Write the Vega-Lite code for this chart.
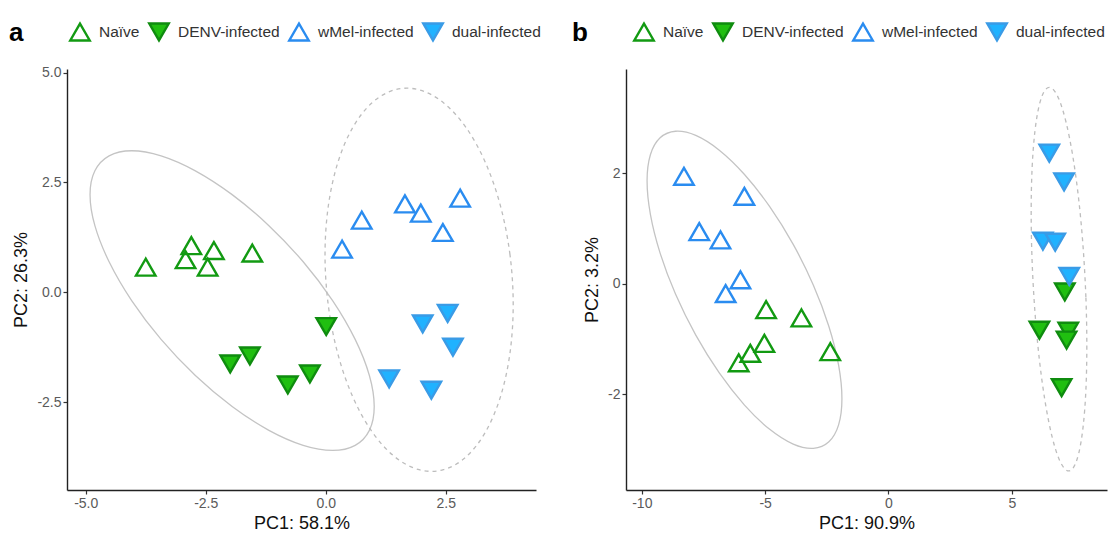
{
  "$schema": "https://vega.github.io/schema/vega-lite/v6.json",
  "padding": {"left": 9, "top": 21, "right": 2, "bottom": 2},
  "background": "white",
  "bounds": "flush",
  "spacing": 90,
  "config": {
    "font": "Liberation Sans",
    "view": {"stroke": null},
    "axis": {
      "grid": false,
      "domainColor": "#222222",
      "domainWidth": 1.4,
      "tickColor": "#333333",
      "tickSize": 4,
      "tickWidth": 1.2,
      "labelColor": "#5a5a5a",
      "labelFontSize": 14,
      "labelFont": "Liberation Sans",
      "titleFont": "Liberation Sans",
      "titleFontSize": 18,
      "titleFontWeight": "normal",
      "titleColor": "#111111",
      "labelExpr": "replace(datum.label, '\u2212', '-')"
    },
    "legend": {
      "labelFont": "Liberation Sans",
      "labelFontSize": 15.5,
      "labelColor": "#333333",
      "titleFont": "Liberation Sans",
      "titleFontSize": 26,
      "titleFontWeight": "bold",
      "titleColor": "#000000",
      "titleOrient": "left",
      "titlePadding": 45,
      "symbolStrokeWidth": 2.4,
      "symbolSize": 380,
      "labelOffset": 8,
      "columnPadding": 4,
      "gridAlign": "none",
      "direction": "horizontal"
    }
  },
  "datasets": {
    "ptsA": [
      {"group": "Naïve", "pc1": -3.75, "pc2": 0.57},
      {"group": "Naïve", "pc1": -2.80, "pc2": 1.06},
      {"group": "Naïve", "pc1": -2.92, "pc2": 0.74},
      {"group": "Naïve", "pc1": -2.33, "pc2": 0.95},
      {"group": "Naïve", "pc1": -2.46, "pc2": 0.57},
      {"group": "Naïve", "pc1": -1.53, "pc2": 0.89},
      {"group": "DENV-infected", "pc1": 0.01, "pc2": -0.78},
      {"group": "DENV-infected", "pc1": -1.58, "pc2": -1.45},
      {"group": "DENV-infected", "pc1": -1.99, "pc2": -1.63},
      {"group": "DENV-infected", "pc1": -0.79, "pc2": -2.11},
      {"group": "DENV-infected", "pc1": -0.33, "pc2": -1.86},
      {"group": "wMel-infected", "pc1": 0.34, "pc2": 0.98},
      {"group": "wMel-infected", "pc1": 0.75, "pc2": 1.64},
      {"group": "wMel-infected", "pc1": 1.65, "pc2": 2.01},
      {"group": "wMel-infected", "pc1": 1.98, "pc2": 1.80},
      {"group": "wMel-infected", "pc1": 2.44, "pc2": 1.36},
      {"group": "wMel-infected", "pc1": 2.80, "pc2": 2.14},
      {"group": "dual-infected", "pc1": 2.54, "pc2": -0.48},
      {"group": "dual-infected", "pc1": 2.02, "pc2": -0.72},
      {"group": "dual-infected", "pc1": 2.65, "pc2": -1.25},
      {"group": "dual-infected", "pc1": 1.32, "pc2": -1.97},
      {"group": "dual-infected", "pc1": 2.20, "pc2": -2.23}
    ],
    "ptsB": [
      {"group": "Naïve", "pc1": -4.96, "pc2": -0.47},
      {"group": "Naïve", "pc1": -3.53, "pc2": -0.62},
      {"group": "Naïve", "pc1": -5.03, "pc2": -1.08},
      {"group": "Naïve", "pc1": -5.60, "pc2": -1.26},
      {"group": "Naïve", "pc1": -6.07, "pc2": -1.43},
      {"group": "Naïve", "pc1": -2.36, "pc2": -1.23},
      {"group": "DENV-infected", "pc1": 7.15, "pc2": -0.15},
      {"group": "DENV-infected", "pc1": 6.12, "pc2": -0.84},
      {"group": "DENV-infected", "pc1": 7.29, "pc2": -0.86},
      {"group": "DENV-infected", "pc1": 7.22, "pc2": -1.02},
      {"group": "DENV-infected", "pc1": 7.02, "pc2": -1.88},
      {"group": "wMel-infected", "pc1": -8.29, "pc2": 1.94},
      {"group": "wMel-infected", "pc1": -5.84, "pc2": 1.58},
      {"group": "wMel-infected", "pc1": -7.67, "pc2": 0.94},
      {"group": "wMel-infected", "pc1": -6.81, "pc2": 0.79},
      {"group": "wMel-infected", "pc1": -6.00, "pc2": 0.07},
      {"group": "wMel-infected", "pc1": -6.60, "pc2": -0.18},
      {"group": "dual-infected", "pc1": 6.52, "pc2": 2.36},
      {"group": "dual-infected", "pc1": 7.12, "pc2": 1.84},
      {"group": "dual-infected", "pc1": 6.26, "pc2": 0.77},
      {"group": "dual-infected", "pc1": 6.76, "pc2": 0.75},
      {"group": "dual-infected", "pc1": 7.33, "pc2": 0.13}
    ],
    "ellA": [
      {"e": "s", "t": 0, "pc1": 1.01, "pc2": -2.601},
      {"e": "s", "t": 15, "pc1": 0.909, "pc2": -1.895},
      {"e": "s", "t": 30, "pc1": 0.613, "pc2": -1.073},
      {"e": "s", "t": 45, "pc1": 0.143, "pc2": -0.19},
      {"e": "s", "t": 60, "pc1": -0.47, "pc2": 0.693},
      {"e": "s", "t": 75, "pc1": -1.184, "pc2": 1.515},
      {"e": "s", "t": 90, "pc1": -1.95, "pc2": 2.221},
      {"e": "s", "t": 105, "pc1": -2.716, "pc2": 2.763},
      {"e": "s", "t": 120, "pc1": -3.43, "pc2": 3.104},
      {"e": "s", "t": 135, "pc1": -4.043, "pc2": 3.22},
      {"e": "s", "t": 150, "pc1": -4.513, "pc2": 3.104},
      {"e": "s", "t": 165, "pc1": -4.809, "pc2": 2.763},
      {"e": "s", "t": 180, "pc1": -4.91, "pc2": 2.221},
      {"e": "s", "t": 195, "pc1": -4.809, "pc2": 1.515},
      {"e": "s", "t": 210, "pc1": -4.513, "pc2": 0.693},
      {"e": "s", "t": 225, "pc1": -4.043, "pc2": -0.19},
      {"e": "s", "t": 240, "pc1": -3.43, "pc2": -1.073},
      {"e": "s", "t": 255, "pc1": -2.716, "pc2": -1.895},
      {"e": "s", "t": 270, "pc1": -1.95, "pc2": -2.601},
      {"e": "s", "t": 285, "pc1": -1.184, "pc2": -3.143},
      {"e": "s", "t": 300, "pc1": -0.47, "pc2": -3.484},
      {"e": "s", "t": 315, "pc1": 0.143, "pc2": -3.6},
      {"e": "s", "t": 330, "pc1": 0.613, "pc2": -3.484},
      {"e": "s", "t": 345, "pc1": 0.909, "pc2": -3.143},
      {"e": "d", "t": 0, "pc1": 3.905, "pc2": -0.283},
      {"e": "d", "t": 15, "pc1": 3.838, "pc2": 0.855},
      {"e": "d", "t": 30, "pc1": 3.642, "pc2": 1.955},
      {"e": "d", "t": 45, "pc1": 3.331, "pc2": 2.94},
      {"e": "d", "t": 60, "pc1": 2.925, "pc2": 3.744},
      {"e": "d", "t": 75, "pc1": 2.452, "pc2": 4.313},
      {"e": "d", "t": 90, "pc1": 1.945, "pc2": 4.607},
      {"e": "d", "t": 105, "pc1": 1.438, "pc2": 4.607},
      {"e": "d", "t": 120, "pc1": 0.965, "pc2": 4.312},
      {"e": "d", "t": 135, "pc1": 0.559, "pc2": 3.742},
      {"e": "d", "t": 150, "pc1": 0.248, "pc2": 2.937},
      {"e": "d", "t": 165, "pc1": 0.052, "pc2": 1.951},
      {"e": "d", "t": 180, "pc1": -0.015, "pc2": 0.851},
      {"e": "d", "t": 195, "pc1": 0.052, "pc2": -0.287},
      {"e": "d", "t": 210, "pc1": 0.248, "pc2": -1.387},
      {"e": "d", "t": 225, "pc1": 0.559, "pc2": -2.372},
      {"e": "d", "t": 240, "pc1": 0.965, "pc2": -3.176},
      {"e": "d", "t": 255, "pc1": 1.438, "pc2": -3.745},
      {"e": "d", "t": 270, "pc1": 1.945, "pc2": -4.039},
      {"e": "d", "t": 285, "pc1": 2.452, "pc2": -4.039},
      {"e": "d", "t": 300, "pc1": 2.925, "pc2": -3.744},
      {"e": "d", "t": 315, "pc1": 3.331, "pc2": -3.174},
      {"e": "d", "t": 330, "pc1": 3.642, "pc2": -2.369},
      {"e": "d", "t": 345, "pc1": 3.838, "pc2": -1.383}
    ],
    "ellB": [
      {"e": "s", "t": 0, "pc1": -1.886, "pc2": -2.08},
      {"e": "s", "t": 15, "pc1": -2.021, "pc2": -1.474},
      {"e": "s", "t": 30, "pc1": -2.415, "pc2": -0.774},
      {"e": "s", "t": 45, "pc1": -3.043, "pc2": -0.029},
      {"e": "s", "t": 60, "pc1": -3.861, "pc2": 0.709},
      {"e": "s", "t": 75, "pc1": -4.814, "pc2": 1.392},
      {"e": "s", "t": 90, "pc1": -5.836, "pc2": 1.973},
      {"e": "s", "t": 105, "pc1": -6.858, "pc2": 2.412},
      {"e": "s", "t": 120, "pc1": -7.811, "pc2": 2.679},
      {"e": "s", "t": 135, "pc1": -8.629, "pc2": 2.755},
      {"e": "s", "t": 150, "pc1": -9.257, "pc2": 2.636},
      {"e": "s", "t": 165, "pc1": -9.651, "pc2": 2.33},
      {"e": "s", "t": 180, "pc1": -9.786, "pc2": 1.858},
      {"e": "s", "t": 195, "pc1": -9.651, "pc2": 1.252},
      {"e": "s", "t": 210, "pc1": -9.257, "pc2": 0.552},
      {"e": "s", "t": 225, "pc1": -8.629, "pc2": -0.193},
      {"e": "s", "t": 240, "pc1": -7.811, "pc2": -0.931},
      {"e": "s", "t": 255, "pc1": -6.858, "pc2": -1.614},
      {"e": "s", "t": 270, "pc1": -5.836, "pc2": -2.195},
      {"e": "s", "t": 285, "pc1": -4.814, "pc2": -2.634},
      {"e": "s", "t": 300, "pc1": -3.861, "pc2": -2.901},
      {"e": "s", "t": 315, "pc1": -3.043, "pc2": -2.977},
      {"e": "s", "t": 330, "pc1": -2.415, "pc2": -2.858},
      {"e": "s", "t": 345, "pc1": -2.021, "pc2": -2.552},
      {"e": "d", "t": 0, "pc1": 8.042, "pc2": -1.126},
      {"e": "d", "t": 15, "pc1": 8.004, "pc2": -0.244},
      {"e": "d", "t": 30, "pc1": 7.891, "pc2": 0.661},
      {"e": "d", "t": 45, "pc1": 7.712, "pc2": 1.526},
      {"e": "d", "t": 60, "pc1": 7.478, "pc2": 2.292},
      {"e": "d", "t": 75, "pc1": 7.206, "pc2": 2.908},
      {"e": "d", "t": 90, "pc1": 6.914, "pc2": 3.331},
      {"e": "d", "t": 105, "pc1": 6.622, "pc2": 3.532},
      {"e": "d", "t": 120, "pc1": 6.35, "pc2": 3.5},
      {"e": "d", "t": 135, "pc1": 6.116, "pc2": 3.232},
      {"e": "d", "t": 150, "pc1": 5.937, "pc2": 2.751},
      {"e": "d", "t": 165, "pc1": 5.824, "pc2": 2.088},
      {"e": "d", "t": 180, "pc1": 5.786, "pc2": 1.288},
      {"e": "d", "t": 195, "pc1": 5.824, "pc2": 0.406},
      {"e": "d", "t": 210, "pc1": 5.937, "pc2": -0.499},
      {"e": "d", "t": 225, "pc1": 6.116, "pc2": -1.364},
      {"e": "d", "t": 240, "pc1": 6.35, "pc2": -2.13},
      {"e": "d", "t": 255, "pc1": 6.622, "pc2": -2.746},
      {"e": "d", "t": 270, "pc1": 6.914, "pc2": -3.169},
      {"e": "d", "t": 285, "pc1": 7.206, "pc2": -3.37},
      {"e": "d", "t": 300, "pc1": 7.478, "pc2": -3.338},
      {"e": "d", "t": 315, "pc1": 7.712, "pc2": -3.07},
      {"e": "d", "t": 330, "pc1": 7.891, "pc2": -2.589},
      {"e": "d", "t": 345, "pc1": 8.004, "pc2": -1.926}
    ]
  },
  "resolve": {
    "scale": {"shape": "independent", "fill": "independent", "stroke": "independent"},
    "legend": {"shape": "independent", "fill": "independent", "stroke": "independent"}
  },
  "hconcat": [
    {
      "width": 469,
      "height": 421,
      "encoding": {
        "x": {"field": "pc1", "type": "quantitative", "title": "PC1: 58.1%",
              "scale": {"domain": [-5.39, 4.38], "nice": false, "zero": false},
              "axis": {"values": [-5, -2.5, 0, 2.5], "format": ".1f", "titlePadding": 4}},
        "y": {"field": "pc2", "type": "quantitative", "title": "PC2: 26.3%",
              "scale": {"domain": [-4.5, 5.08], "nice": false, "zero": false},
              "axis": {"values": [-2.5, 0, 2.5, 5], "format": ".1f", "titlePadding": 6}}
      },
      "layer": [
        {
          "data": {"name": "ellA"},
          "transform": [{"filter": "datum.e == 's'"}],
          "mark": {"type": "line", "interpolate": "cardinal-closed", "stroke": "#c4c4c4", "strokeWidth": 1.3},
          "encoding": {"order": {"field": "t", "type": "quantitative"}}
        },
        {
          "data": {"name": "ellA"},
          "transform": [{"filter": "datum.e == 'd'"}],
          "mark": {"type": "line", "interpolate": "cardinal-closed", "stroke": "#bdbdbd", "strokeWidth": 1.3, "strokeDash": [4, 4]},
          "encoding": {"order": {"field": "t", "type": "quantitative"}}
        },
        {
          "data": {"name": "ptsA"},
          "mark": {"type": "point", "size": 380, "strokeWidth": 2.4, "opacity": 1},
          "encoding": {
            "shape": {"field": "group", "type": "nominal",
                      "scale": {"domain": ["Naïve", "DENV-infected", "wMel-infected", "dual-infected"], "range": ["triangle-up", "triangle-down", "triangle-up", "triangle-down"]},
                      "legend": {"title": "a", "orient": "none", "legendX": -58, "legendY": -48, "columns": 4}},
            "fill": {"field": "group", "type": "nominal",
                     "scale": {"domain": ["Naïve", "DENV-infected", "wMel-infected", "dual-infected"], "range": ["rgba(255,255,255,0)", "#20bf10", "rgba(255,255,255,0)", "#20b2ff"]},
                     "legend": {"title": "a", "orient": "none", "legendX": -58, "legendY": -48, "columns": 4}},
            "stroke": {"field": "group", "type": "nominal",
                       "scale": {"domain": ["Naïve", "DENV-infected", "wMel-infected", "dual-infected"], "range": ["#129a12", "#0f8c0f", "#2a8cf0", "#3a9be6"]},
                       "legend": {"title": "a", "orient": "none", "legendX": -58, "legendY": -48, "columns": 4}}
          }
        }
      ]
    },
    {
      "width": 481,
      "height": 421,
      "encoding": {
        "x": {"field": "pc1", "type": "quantitative", "title": "PC1: 90.9%",
              "scale": {"domain": [-10.64, 8.86], "nice": false, "zero": false},
              "axis": {"values": [-10, -5, 0, 5], "format": "d", "titlePadding": 4}},
        "y": {"field": "pc2", "type": "quantitative", "title": "PC2: 3.2%",
              "scale": {"domain": [-3.73, 3.88], "nice": false, "zero": false},
              "axis": {"values": [-2, 0, 2], "format": "d", "titlePadding": 6}}
      },
      "layer": [
        {
          "data": {"name": "ellB"},
          "transform": [{"filter": "datum.e == 's'"}],
          "mark": {"type": "line", "interpolate": "cardinal-closed", "stroke": "#c4c4c4", "strokeWidth": 1.3},
          "encoding": {"order": {"field": "t", "type": "quantitative"}}
        },
        {
          "data": {"name": "ellB"},
          "transform": [{"filter": "datum.e == 'd'"}],
          "mark": {"type": "line", "interpolate": "cardinal-closed", "stroke": "#bdbdbd", "strokeWidth": 1.3, "strokeDash": [4, 4]},
          "encoding": {"order": {"field": "t", "type": "quantitative"}}
        },
        {
          "data": {"name": "ptsB"},
          "mark": {"type": "point", "size": 380, "strokeWidth": 2.4, "opacity": 1},
          "encoding": {
            "shape": {"field": "group", "type": "nominal",
                      "scale": {"domain": ["Naïve", "DENV-infected", "wMel-infected", "dual-infected"], "range": ["triangle-up", "triangle-down", "triangle-up", "triangle-down"]},
                      "legend": {"title": "b", "orient": "none", "legendX": -54, "legendY": -48, "columns": 4}},
            "fill": {"field": "group", "type": "nominal",
                     "scale": {"domain": ["Naïve", "DENV-infected", "wMel-infected", "dual-infected"], "range": ["rgba(255,255,255,0)", "#20bf10", "rgba(255,255,255,0)", "#20b2ff"]},
                     "legend": {"title": "b", "orient": "none", "legendX": -54, "legendY": -48, "columns": 4}},
            "stroke": {"field": "group", "type": "nominal",
                       "scale": {"domain": ["Naïve", "DENV-infected", "wMel-infected", "dual-infected"], "range": ["#129a12", "#0f8c0f", "#2a8cf0", "#3a9be6"]},
                       "legend": {"title": "b", "orient": "none", "legendX": -54, "legendY": -48, "columns": 4}}
          }
        }
      ]
    }
  ]
}
